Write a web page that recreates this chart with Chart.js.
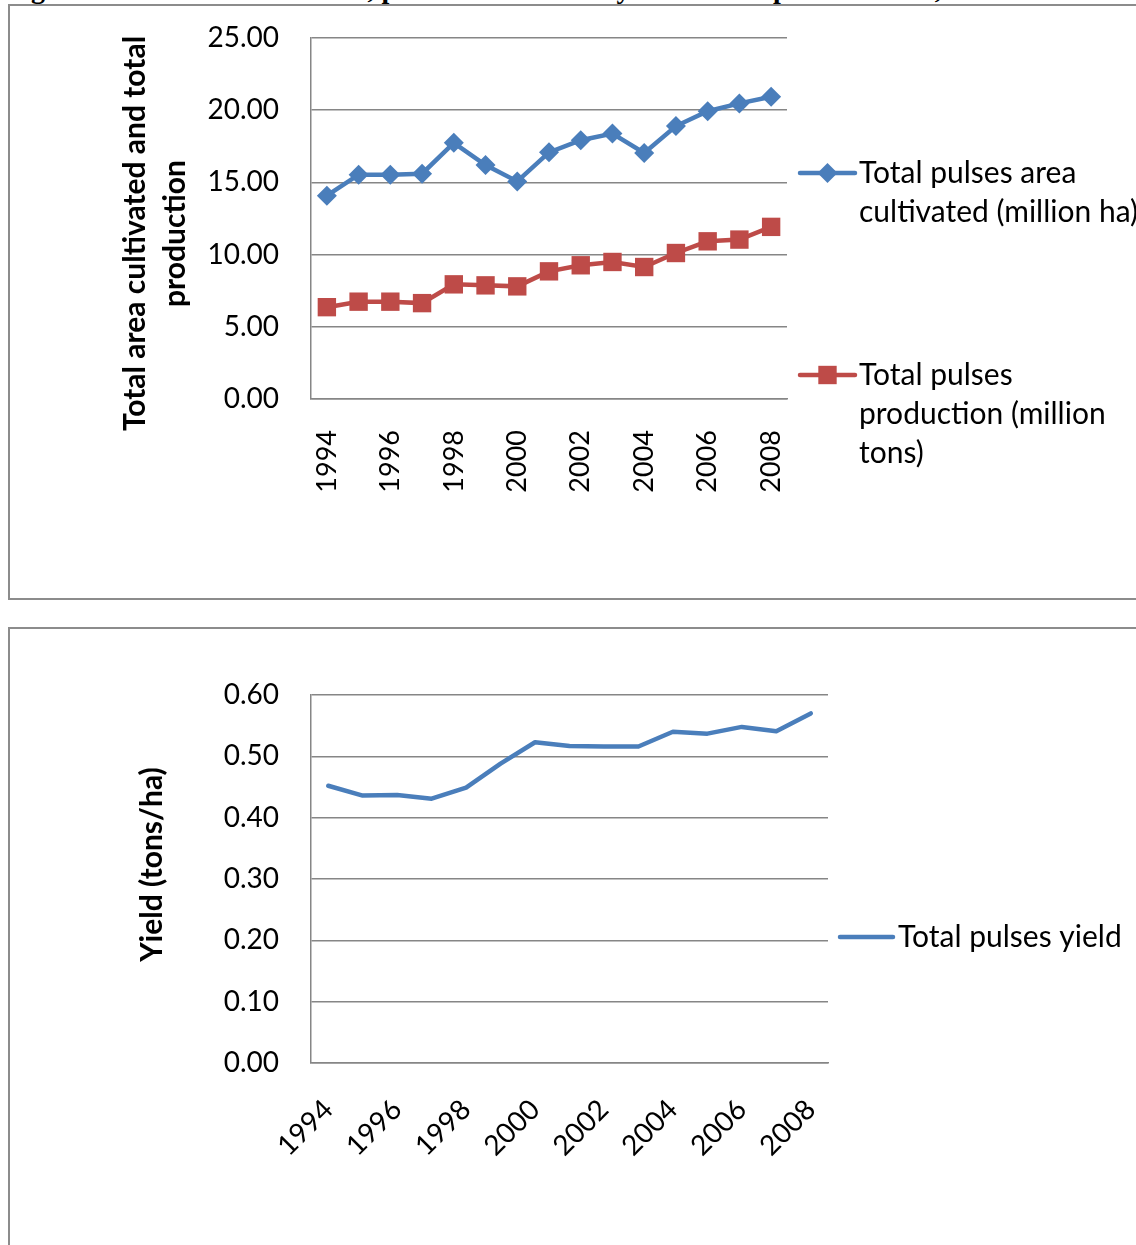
<!DOCTYPE html>
<html>
<head>
<meta charset="utf-8">
<script src="https://cdn.jsdelivr.net/npm/chart.js@4.4.1/dist/chart.umd.min.js"></script>
<style>
html,body{margin:0;padding:0;background:#fff;overflow:hidden;width:1136px;height:1245px;position:relative}
.cap{position:absolute;left:6px;top:-25px;font:bold 28px/28px "Liberation Serif",serif;white-space:nowrap;color:#000}
.box{position:absolute;left:8px;width:1140px;border:2px solid #8c8c8c;box-sizing:border-box;background:#fff}
#box1{top:4px;height:596px}
#box2{top:627px;height:650px}
canvas{position:absolute;left:0;top:0}
</style>
</head>
<body>
<div class="cap">Figure 2: Total area cultivated, production and the yield of total pulses in SSA, 1994-2008</div>
<div class="box" id="box1"><canvas id="c1" width="1130" height="592"></canvas></div>
<div class="box" id="box2"><canvas id="c2" width="1130" height="620"></canvas></div>
<script>
// data
const years=['1994','1995','1996','1997','1998','1999','2000','2001','2002','2003','2004','2005','2006','2007','2008'];
const areaCultivated=[14.08,15.53,15.53,15.6,17.74,16.2,15.07,17.08,17.92,18.38,17.04,18.9,19.93,20.47,20.93];
const production=[6.36,6.74,6.74,6.64,7.94,7.87,7.8,8.84,9.26,9.49,9.14,10.11,10.92,11.04,11.92];
const yieldTons=[0.452,0.436,0.437,0.431,0.449,0.488,0.523,0.517,0.516,0.516,0.540,0.537,0.548,0.541,0.570];
const areaLegend=['Total pulses area','cultivated (million ha)'];
const prodLegend=['Total pulses','production (million','tons)'];
const yieldLegend=['Total pulses yield'];
const title1=['Total area cultivated and total','production'];
const title2=['Yield (tons/ha)'];

const FONT='Lato, "Open Sans", sans-serif';
const GRID='#868686';
const BLUE='#4a7ebb', RED='#be4b48';

// legend drawn to the right of the plot, Excel style with wrapped text
const sideLegend={id:'sideLegend',afterDraw(chart,args,opts){
    const {ctx,chartArea}=chart;
    ctx.save();
    chart.data.datasets.forEach((ds,i)=>{
        const y=chartArea.top+opts.ys[i];
        const x0=chartArea.right+opts.lineFrom, x1=chartArea.right+opts.lineTo;
        ctx.strokeStyle=ds.borderColor;ctx.lineWidth=ds.borderWidth;ctx.lineCap='round';
        ctx.beginPath();ctx.moveTo(x0,y);ctx.lineTo(x1,y);ctx.stroke();
        if(ds.pointRadius>0){
            ctx.fillStyle=ds.backgroundColor;
            Chart.helpers.drawPoint(ctx,{pointStyle:ds.pointStyle,radius:ds.pointRadius,borderWidth:0,rotation:0},(x0+x1)/2,y);
        }
        ctx.fillStyle='#000';ctx.font='30px '+FONT;ctx.textBaseline='middle';ctx.textAlign='left';
        opts.lines[i].forEach((t,k)=>ctx.fillText(t,chartArea.right+opts.textX,y+k*opts.lineH));
    });
    // rotated y axis title, Excel centres it a bit off the plot middle
    const s=chart.scales.y, t=opts.title;
    ctx.font='bold 30px '+FONT;ctx.textAlign='center';
    t.lines.forEach((line,k)=>{
        ctx.save();
        ctx.translate(t.x+k*t.lineH,(s.top+s.bottom)/2+t.shift);
        ctx.rotate(-Math.PI/2);
        ctx.fillText(line,0,0);
        ctx.restore();
    });
    ctx.restore();
}};

function xAxis(rot,pad,size){
    return {offset:true,grid:{display:false},border:{display:true,color:GRID,width:1.5},
        afterFit(s){s.height=120;},
        ticks:{color:'#000',font:{family:FONT,size:size},minRotation:rot,maxRotation:rot,autoSkip:false,padding:pad,
            callback(v,i){return i%2?'':this.getLabelForValue(v);}}};
}
function yAxis(max,step){
    return {min:0,max:max,
        grid:{color:GRID,lineWidth:1.5,drawTicks:false},border:{display:true,color:GRID,width:1.5},
        afterFit(s){s.width=301;s.paddingTop=0;s.paddingBottom=0;},
        ticks:{color:'#000',font:{family:FONT,size:28},padding:32,stepSize:step,callback:v=>Number(v).toFixed(2)}};
}

new Chart(document.getElementById('c1'),{
    type:'line',
    data:{labels:years,datasets:[
        {label:areaLegend.join(' '),data:areaCultivated,borderColor:BLUE,backgroundColor:BLUE,borderWidth:4.5,
         pointStyle:'rectRot',pointRadius:10,pointBorderWidth:0,pointBackgroundColor:BLUE},
        {label:prodLegend.join(' '),data:production,borderColor:RED,backgroundColor:RED,borderWidth:4.5,
         pointStyle:'rect',pointRadius:13,pointBorderWidth:0,pointBackgroundColor:RED}
    ]},
    options:{responsive:false,animation:false,
        layout:{padding:{left:0,top:32,right:353,bottom:79}},
        plugins:{legend:{display:false},tooltip:{enabled:false},
            sideLegend:{ys:[135,337],lineFrom:13,lineTo:68,textX:72,lineH:39,lines:[areaLegend,prodLegend],
                title:{lines:title1,x:125,lineH:40,shift:15}}},
        scales:{x:xAxis(90,23,27),y:yAxis(25,5)}},
    plugins:[sideLegend]
});

new Chart(document.getElementById('c2'),{
    type:'line',
    data:{labels:years,datasets:[
        {label:yieldLegend.join(' '),data:yieldTons,borderColor:BLUE,backgroundColor:BLUE,borderWidth:4.5,
         pointRadius:0,borderCapStyle:'round',borderJoinStyle:'round'}
    ]},
    options:{responsive:false,animation:false,
        layout:{padding:{left:0,top:66,right:312,bottom:66}},
        plugins:{legend:{display:false},tooltip:{enabled:false},
            sideLegend:{ys:[242],lineFrom:12,lineTo:65,textX:70,lineH:39,lines:[yieldLegend],
                title:{lines:title2,x:142,lineH:40,shift:-14.5}}},
        scales:{x:xAxis(45,22,28),y:yAxis(0.6,0.1)}},
    plugins:[sideLegend]
});
</script>
</body>
</html>
